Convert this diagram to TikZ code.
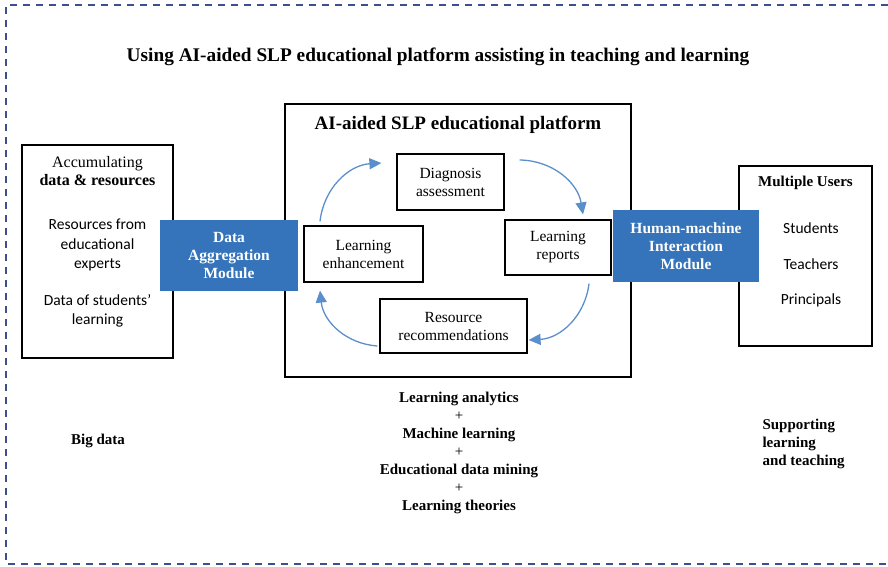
\documentclass[tikz,border=0pt]{standalone}
\usepackage{fontspec}
\setmainfont{Liberation Serif}
\newfontfamily\bodysans{Carlito}
\usepackage{tikz}
\usetikzlibrary{positioning,arrows.meta,calc}

\definecolor{modblue}{HTML}{3574BA}
\definecolor{cycblue}{HTML}{5B8FCB}
\definecolor{framecol}{HTML}{3D4F8C}

\begin{document}
\begin{tikzpicture}[x=1pt,y=-1pt,
  box/.style={rectangle,draw,line width=1.3pt,inner sep=0pt,minimum width=#1},
  stage/.style={rectangle,draw,line width=1.2pt,align=center,font=\fontsize{15.5}{18}\selectfont,inner sep=0pt},
  module/.style={rectangle,fill=modblue,text=white,align=center,inner sep=0pt,font=\fontsize{15.5}{18}\selectfont\bfseries},
  sans/.style={font=\bodysans\fontsize{15.5}{19.5}\selectfont,align=center},
  cyc/.style={-{Triangle[length=12pt,width=11pt]},line width=1.3pt,cycblue,bend left=40},
  bold/.style={font=\fontsize{15}{18}\selectfont\bfseries,align=center},
]

\useasboundingbox (0,0) rectangle (888,566);

% Outer dashed frame (open at the right)
\draw[framecol,line width=1.5pt,dash pattern=on 7pt off 6pt] (888,5) -- (6,5) -- (6,564) -- (888,564);

% Heading
\node[font=\fontsize{19.3}{22}\selectfont\bfseries] (head) at (438,57) {Using AI-aided SLP educational platform assisting in teaching and learning};

% Big data side
\node[box=151pt,minimum height=213pt] (src) at (97.5,251.5) {};
\node[font=\fontsize{16}{18}\selectfont,align=center] (acc) at (97.5,171) {Accumulating\\\textbf{data \& resources}};
\node[sans] (expert) at (97.5,245) {Resources from\\educational\\experts};
\node[sans] (stud) at (97.5,311) {Data of students’\\learning};

% Platform
\node[box=346pt,minimum height=273pt] (plat) at (458,240.5) {};
\node[font=\fontsize{19}{22}\selectfont\bfseries] (plattitle) at (458,125) {AI-aided SLP educational platform};

\node[stage,minimum width=107pt,minimum height=56pt] (diag) at (450.5,182) {Diagnosis\\assessment};
\node[stage,minimum width=106pt,minimum height=55pt] (rep) at (558,247.5) {Learning\\reports};
\node[stage,minimum width=147pt,minimum height=54pt] (rec) at (453.5,326) {Resource\\recommendations};
\node[stage,minimum width=119pt,minimum height=56pt] (enh) at (363.5,254) {Learning\\enhancement};

% Cycle
\draw[cyc] ([shift={(-43.5,-4)}]enh.north) to ([shift={(-15,-19)}]diag.west);
\draw[cyc] ([shift={(15,-22)}]diag.east) to ([shift={(25,-5)}]rep.north);
\draw[cyc] ([shift={(31,8)}]rep.south) to ([shift={(1,14)}]rec.east);
\draw[cyc] ([shift={(-2,20)}]rec.west) to ([shift={(-43.5,8)}]enh.south);

% Users side
\node[box=133pt,minimum height=180pt] (users) at (805.5,256) {};
\node[font=\fontsize{15}{17}\selectfont\bfseries] (multi) at (805.5,183) {Multiple Users};
\node[sans] (students) at (811,228) {Students};
\node[sans] (teachers) at (811,264) {Teachers};
\node[sans] (principals) at (811,300) {Principals};

% Modules
\node[module,minimum width=138pt,minimum height=71pt] (dam) at (229,255.5) {Data\\Aggregation\\Module};
\node[module,minimum width=146pt,minimum height=72pt] (hmi) at (686,246) {Human-machine\\Interaction\\Module};

% Bottom labels
\node[bold] (big) at (98,441) {Big data};
\node[bold] (methods) at (459,453) {Learning analytics\\\textmd{+}\\Machine learning\\\textmd{+}\\Educational data mining\\\textmd{+}\\Learning theories};
\node[bold,align=left,anchor=west] (support) at (759,444) {Supporting\\learning\\and teaching};

\end{tikzpicture}
\end{document}
